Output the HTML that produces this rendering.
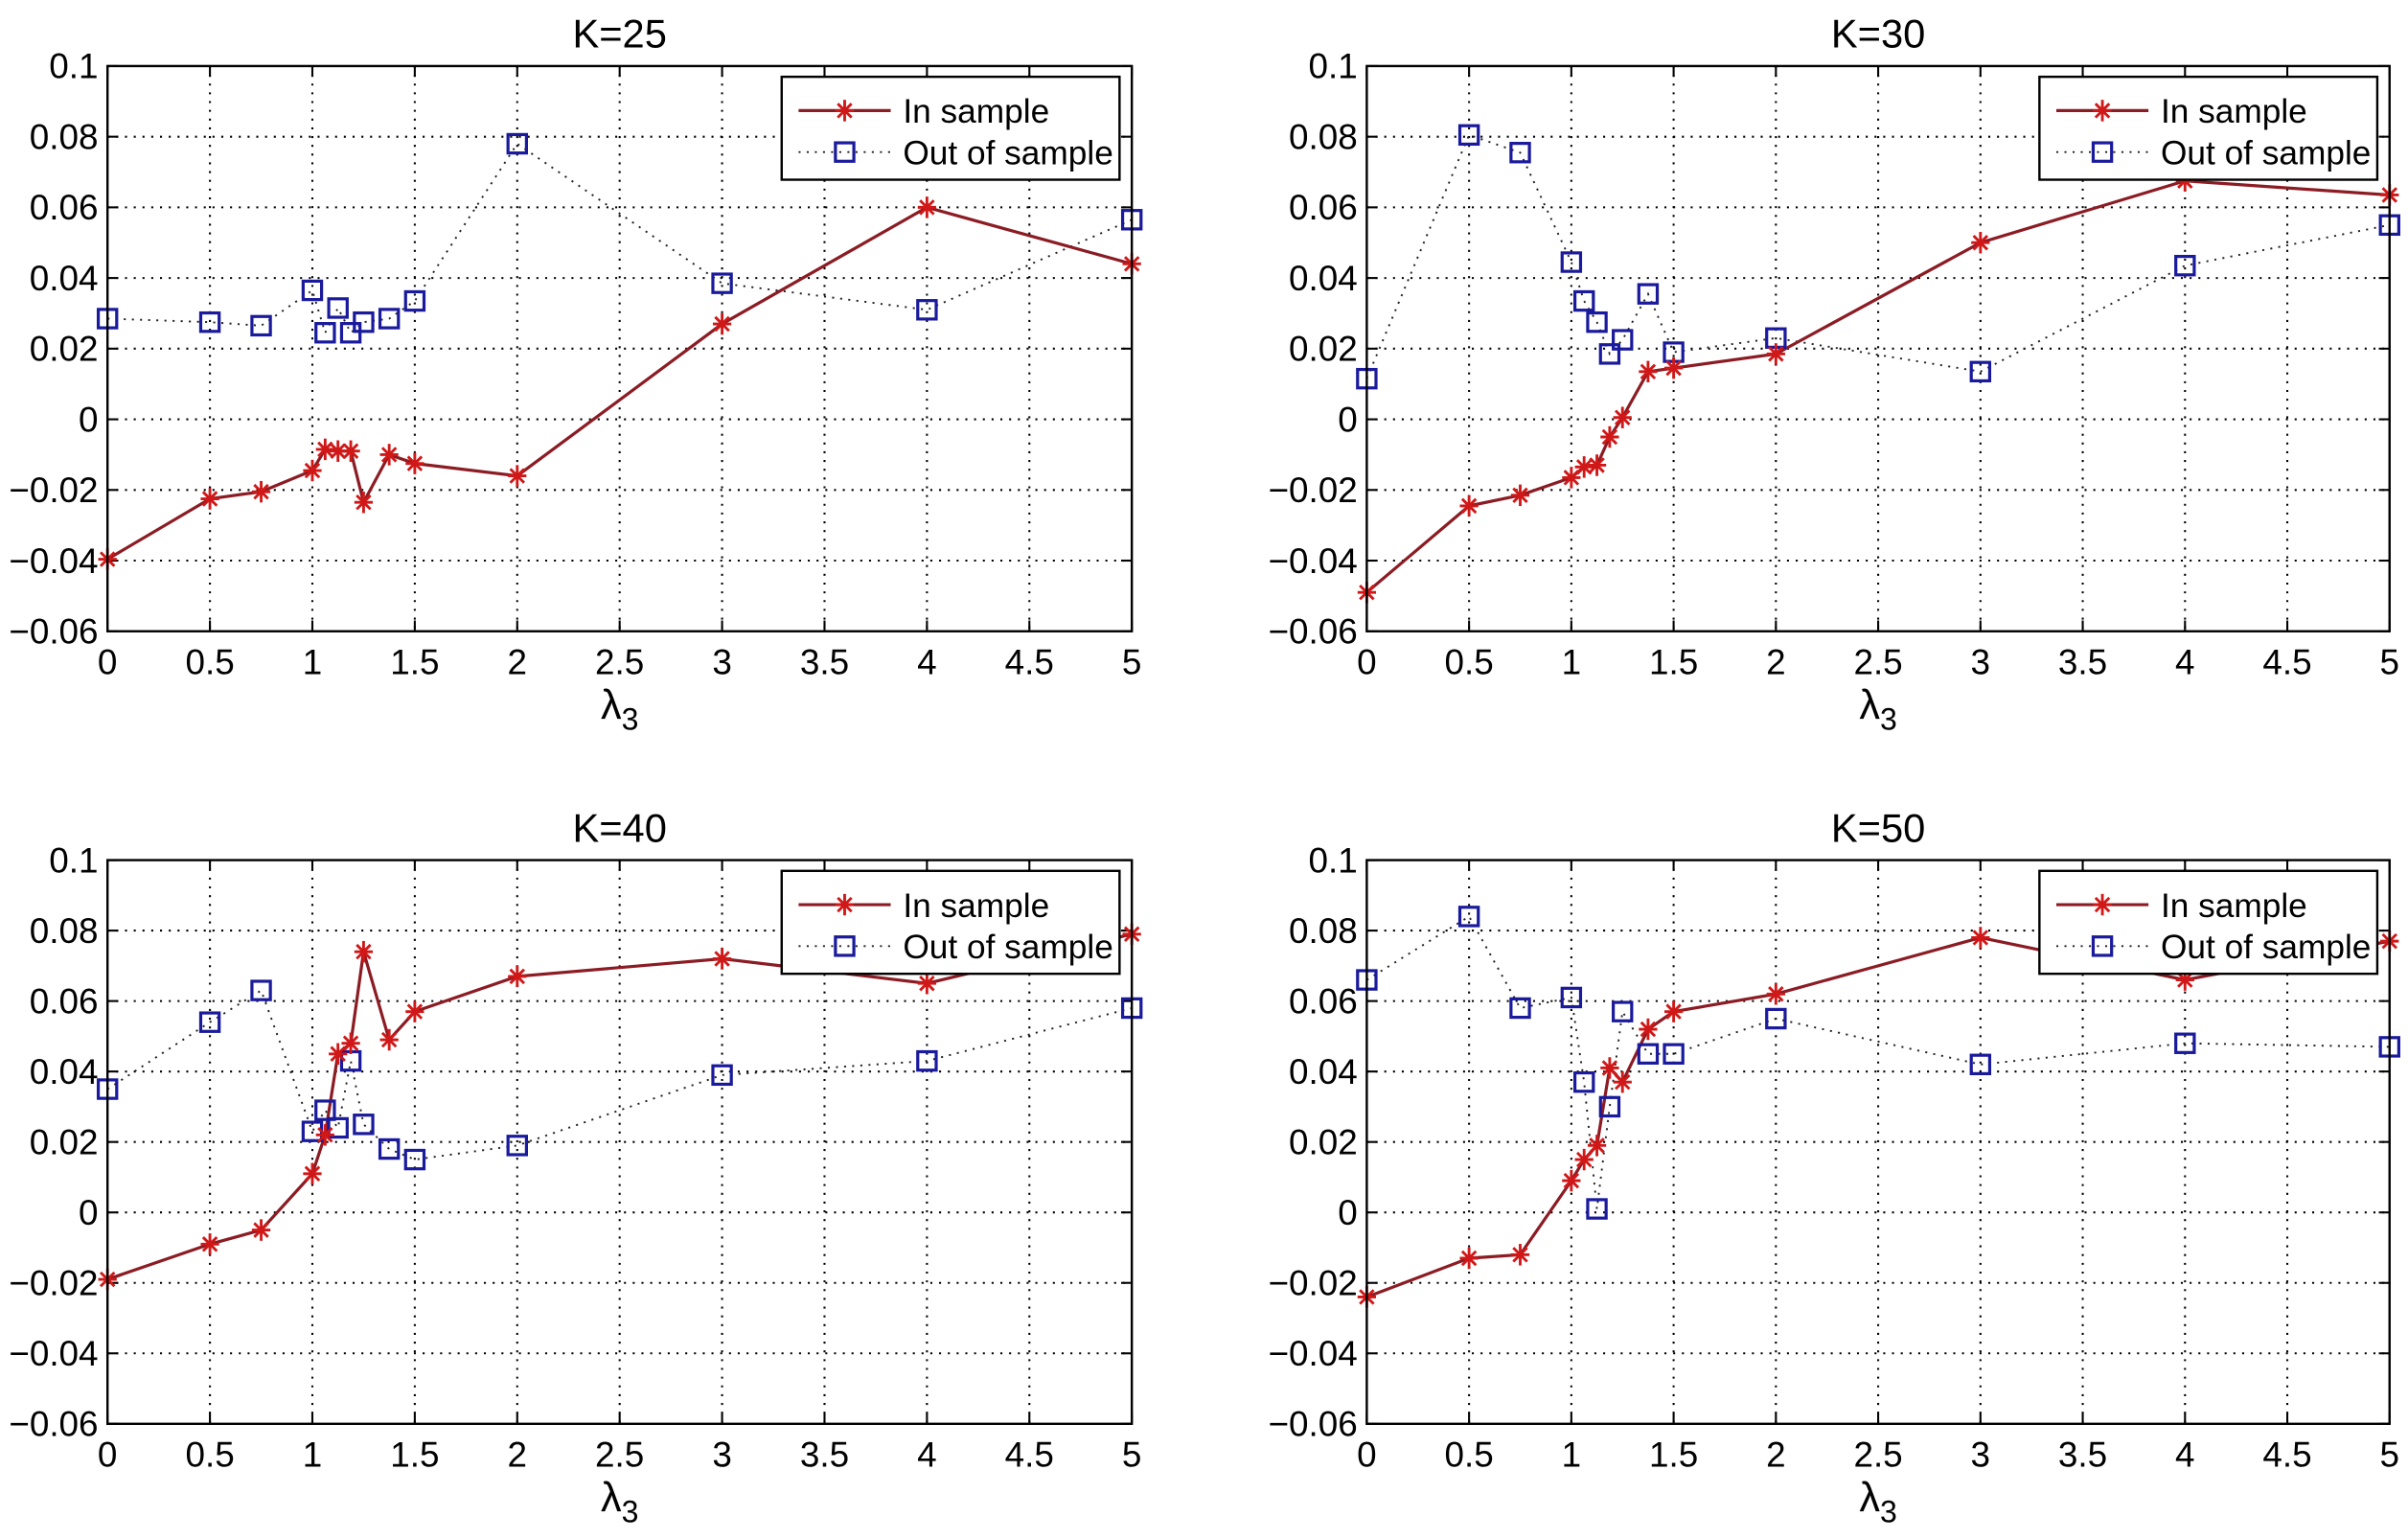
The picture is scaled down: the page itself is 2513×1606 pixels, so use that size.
<!DOCTYPE html>
<html><head><meta charset="utf-8"><style>
html,body{margin:0;padding:0;background:#fff;}
svg{display:block;font-family:"Liberation Sans",Arial,sans-serif;}
</style></head><body>
<svg id="fig" width="2513" height="1606" viewBox="0 0 1568 1002" preserveAspectRatio="none" xmlns="http://www.w3.org/2000/svg"></svg>
<script>
const lambdas = [0,0.5,0.75,1,1.0625,1.125,1.1875,1.25,1.375,1.5,2,3,4,5];
const xTicks = [0,0.5,1,1.5,2,2.5,3,3.5,4,4.5,5];
const xTickLabels = ["0","0.5","1","1.5","2","2.5","3","3.5","4","4.5","5"];
const yTicks = [0.1,0.08,0.06,0.04,0.02,0,-0.02,-0.04,-0.06];
const yTickLabels = ["0.1","0.08","0.06","0.04","0.02","0","\u22120.02","\u22120.04","\u22120.06"];
const titles = ["K=25","K=30","K=40","K=50"];
const inK25 = [-0.0396,-0.0225,-0.0205,-0.0145,-0.0085,-0.009,-0.009,-0.0235,-0.01,-0.0125,-0.016,0.027,0.06,0.044];
const outK25 = [0.0285,0.0275,0.0265,0.0365,0.0245,0.0315,0.0245,0.0275,0.0285,0.0335,0.078,0.0385,0.031,0.0565];
const inK30 = [-0.049,-0.0245,-0.0215,-0.0165,-0.0135,-0.013,-0.005,0.0005,0.0135,0.0145,0.0185,0.05,0.0675,0.0635];
const outK30 = [0.0115,0.0805,0.0755,0.0445,0.0335,0.0275,0.0185,0.0225,0.0355,0.019,0.023,0.0135,0.0435,0.055];
const inK40 = [-0.019,-0.009,-0.005,0.011,0.022,0.045,0.048,0.074,0.049,0.057,0.067,0.072,0.065,0.079];
const outK40 = [0.035,0.054,0.063,0.023,0.029,0.024,0.043,0.025,0.018,0.015,0.019,0.039,0.043,0.058];
const inK50 = [-0.024,-0.013,-0.012,0.009,0.015,0.019,0.041,0.037,0.052,0.057,0.062,0.078,0.066,0.077];
const outK50 = [0.066,0.084,0.058,0.061,0.037,0.001,0.030,0.057,0.045,0.045,0.055,0.042,0.048,0.047];

const inSeries = [inK25,inK30,inK40,inK50];
const outSeries = [outK25,outK30,outK40,outK50];
const panels = [{l:70,r:737,t:43,b:411},{l:890,r:1556,t:43,b:411},{l:70,r:737,t:560,b:927},{l:890,r:1556,t:560,b:927}];
const NS="http://www.w3.org/2000/svg";
const svg=document.getElementById('fig');
const RED="#8c1c24", STAR="#d01818", BLUE="#1a1a9c";
function mk(tag,attrs,parent){const e=document.createElementNS(NS,tag);for(const k in attrs)e.setAttribute(k,attrs[k]);(parent||svg).appendChild(e);return e;}

panels.forEach((p,i)=>{
  const g=mk('g',{});
  
  
  const xs=v=>p.l+(v-0)/(5-0)*(p.r-p.l);
  const ys=v=>p.b-(v+0.06)/(0.16)*(p.b-p.t);
  mk('rect',{x:p.l,y:p.t,width:p.r-p.l,height:p.b-p.t,fill:'#fff'},g);
  xTicks.forEach((t,j)=>{
    const x=xs(t);
    if(j>0&&j<xTicks.length-1){const gl=mk('line',{x1:x,x2:x,y1:p.t,y2:p.b,stroke:'#000','stroke-width':1.3,'stroke-dasharray':'1.3 4.4'},g);
      }
    mk('line',{x1:x,x2:x,y1:p.b,y2:p.b-7,stroke:'#000','stroke-width':1.3},g);
    mk('line',{x1:x,x2:x,y1:p.t,y2:p.t+7,stroke:'#000','stroke-width':1.3},g);
    const tl=mk('text',{x:x,y:p.b+28,'text-anchor':'middle','font-size':23,fill:'#000'},g);
    tl.textContent=xTickLabels[j];
    
  });
  yTicks.forEach((t,j)=>{
    const y=ys(t);
    if(j>0&&j<yTicks.length-1){const gl=mk('line',{x1:p.l,x2:p.r,y1:y,y2:y,stroke:'#000','stroke-width':1.3,'stroke-dasharray':'1.3 4.4'},g);
      }
    mk('line',{x1:p.l,x2:p.l+7,y1:y,y2:y,stroke:'#000','stroke-width':1.3},g);
    mk('line',{x1:p.r,x2:p.r-7,y1:y,y2:y,stroke:'#000','stroke-width':1.3},g);
    const tl=mk('text',{x:p.l-6,y:y+8,'text-anchor':'end','font-size':23,fill:'#000'},g);
    tl.textContent=yTickLabels[j];
    
  });
  const op=outSeries[i].map((v,k)=>xs(lambdas[k])+','+ys(v)).join(' ');
  const ol=mk('polyline',{points:op,fill:'none',stroke:'#222','stroke-width':1.2,'stroke-dasharray':'1.3 4'},g);
  
  const ip=inSeries[i].map((v,k)=>xs(lambdas[k])+','+ys(v)).join(' ');
  const il=mk('polyline',{points:ip,fill:'none',stroke:RED,'stroke-width':2},g);
  
  outSeries[i].forEach((v,k)=>{
    const s=mk('rect',{x:xs(lambdas[k])-6,y:ys(v)-6,width:12,height:12,fill:'none',stroke:BLUE,'stroke-width':2},g);
    
  });
  function star(cx,cy,par){
    const sg=mk('g',{stroke:STAR,'stroke-width':1.8},par);
    
    mk('line',{x1:cx-6,x2:cx+6,y1:cy,y2:cy},sg);mk('line',{x1:cx,x2:cx,y1:cy-7,y2:cy+7},sg);
    mk('line',{x1:cx-4.5,x2:cx+4.5,y1:cy-4.5,y2:cy+4.5},sg);mk('line',{x1:cx-4.5,x2:cx+4.5,y1:cy+4.5,y2:cy-4.5},sg);
  }
  inSeries[i].forEach((v,k)=>star(xs(lambdas[k]),ys(v),g));
  mk('rect',{x:p.l,y:p.t,width:p.r-p.l,height:p.b-p.t,fill:'none',stroke:'#000','stroke-width':1.5},g);
  const tt=mk('text',{x:(p.l+p.r)/2,y:p.t-12,'text-anchor':'middle','font-size':26,fill:'#000'},g);
  tt.textContent=titles[i];
  const xl=mk('text',{x:(p.l+p.r)/2,y:p.b+57,'text-anchor':'middle','font-size':27,fill:'#000'},g);
  xl.innerHTML='λ<tspan font-size="20" dy="7">3</tspan>';
  
  const lx=p.r-228, ly=p.t+7;
  const lg=mk('g',{},g);
  
  mk('rect',{x:lx,y:ly,width:220,height:67,fill:'#fff',stroke:'#000','stroke-width':1.5},lg);
  mk('line',{x1:lx+11,x2:lx+71,y1:ly+22,y2:ly+22,stroke:RED,'stroke-width':2},lg);
  star(lx+41,ly+22,lg);
  const t1=mk('text',{x:lx+79,y:ly+30,'font-size':22,fill:'#000'},lg);t1.textContent='In sample';
  
  mk('line',{x1:lx+11,x2:lx+71,y1:ly+49,y2:ly+49,stroke:'#222','stroke-width':1.2,'stroke-dasharray':'1.3 4'},lg);
  mk('rect',{x:lx+35,y:ly+43,width:12,height:12,fill:'none',stroke:BLUE,'stroke-width':2},lg);
  const t2=mk('text',{x:lx+79,y:ly+57,'font-size':22,fill:'#000'},lg);t2.textContent='Out of sample';
  
});
</script>
</body></html>
